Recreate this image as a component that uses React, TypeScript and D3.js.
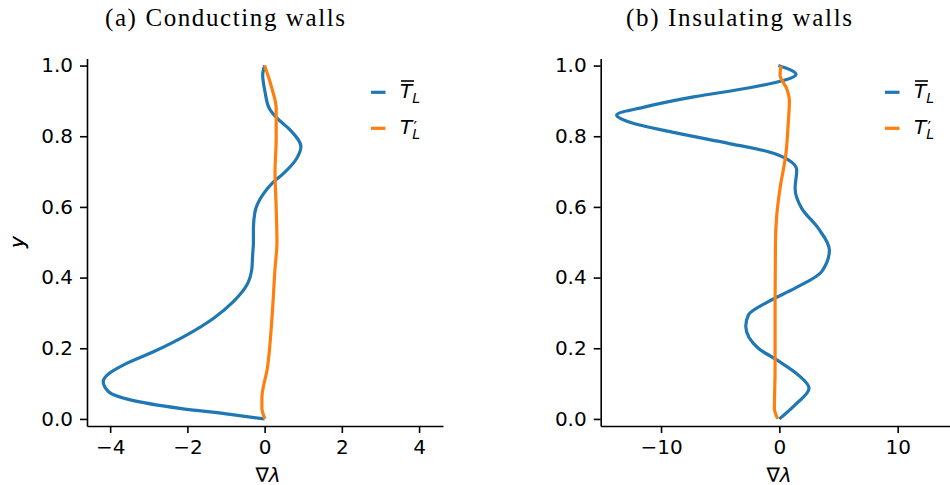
import React, { useEffect, useRef } from "react";
import * as d3 from "d3";

const blue = "#1f77b4";
const orange = "#ff7f0e";

// (a) Conducting walls
const yCondMean = [0.0, 0.013, 0.03, 0.054, 0.077, 0.106, 0.124, 0.153, 0.19, 0.238, 0.285, 0.332, 0.379, 0.426, 0.464, 0.5, 0.539, 0.586, 0.634, 0.671, 0.695, 0.737, 0.77, 0.818, 0.851, 0.879, 0.926, 0.973, 1.0];
const vCondMean = [0.0, -0.89, -2.19, -3.48, -4.04, -4.18, -4.08, -3.65, -2.88, -2.01, -1.32, -0.81, -0.46, -0.33, -0.31, -0.29, -0.29, -0.25, -0.05, 0.23, 0.49, 0.83, 0.94, 0.66, 0.32, 0.12, 0.01, -0.05, 0.0];
const yCondFluct = [0.0, 0.03, 0.059, 0.143, 0.285, 0.426, 0.5, 0.596, 0.7, 0.794, 0.879, 0.935, 1.0];
const vCondFluct = [0.01, -0.07, -0.07, 0.07, 0.19, 0.27, 0.32, 0.3, 0.27, 0.3, 0.3, 0.19, 0.0];

// (b) Insulating walls
const yInsMean = [0.0, 0.04, 0.087, 0.124, 0.167, 0.2, 0.262, 0.294, 0.332, 0.37, 0.417, 0.478, 0.539, 0.596, 0.653, 0.704, 0.733, 0.756, 0.78, 0.808, 0.841, 0.86, 0.883, 0.912, 0.935, 0.959, 0.975, 1.0];
const vInsMean = [0.0, 1.33, 2.51, 1.61, -0.22, -1.78, -2.84, -2.62, -0.93, 1.33, 3.58, 4.23, 3.3, 1.89, 1.33, 1.47, 0.76, -0.93, -4.31, -8.54, -12.76, -13.75, -11.35, -7.13, -2.9, 0.48, 1.41, -0.08];
const yInsFluct = [0.0, 0.03, 0.143, 0.332, 0.5, 0.577, 0.653, 0.747, 0.841, 0.898, 0.935, 0.973, 1.0];
const vInsFluct = [-0.14, -0.42, -0.36, -0.36, -0.33, -0.22, 0.06, 0.54, 0.76, 0.85, 0.62, 0.06, 0.14];

const yTicks = [0, 0.2, 0.4, 0.6, 0.8, 1.0];
const xTicksCond = [-4, -2, 0, 2, 4];
const xTicksIns = [-10, 0, 10];

const panels = [
  {
    title: "(a) Conducting walls",
    titleX: 225,
    titleW: 240,
    left: 87,
    right: 443,
    xDomain: [-4.6, 4.62],
    xTicks: xTicksCond,
    xLabelX: 268,
    legendX: 371,
    mean: { y: yCondMean, v: vCondMean },
    fluct: { y: yCondFluct, v: vCondFluct },
  },
  {
    title: "(b) Insulating walls",
    titleX: 739,
    titleW: 226,
    left: 600.7,
    right: 958,
    xDomain: [-15.1, 15.1],
    xTicks: xTicksIns,
    xLabelX: 779,
    legendX: 885,
    mean: { y: yInsMean, v: vInsMean },
    fluct: { y: yInsFluct, v: vInsFluct },
  },
];

const App = () => {
  const ref = useRef<SVGSVGElement>(null);

  useEffect(() => {
    if (!ref.current) return;
    const svg = d3.select(ref.current);
    svg.selectAll("*").remove();

    const top = 58.5;
    const bottom = 426;
    const y = d3.scaleLinear().domain([-0.02, 1.02]).range([bottom, top]);

    panels.forEach((p) => {
      const x = d3.scaleLinear().domain(p.xDomain).range([p.left, p.right]);
      const g = svg.append("g");

      // title
      g.append("text")
        .attr("x", p.titleX)
        .attr("y", 26)
        .attr("text-anchor", "middle")
        .attr("font-family", "Liberation Serif, serif")
        .attr("font-size", 25)
        .attr("textLength", p.titleW)
        .attr("lengthAdjust", "spacing")
        .text(p.title);

      // y axis
      const ya = g
        .append("g")
        .attr("transform", `translate(${p.left},0)`)
        .call(
          d3
            .axisLeft(y)
            .tickValues(yTicks)
            .tickFormat(d3.format(".1f"))
            .tickSize(7)
            .tickSizeOuter(0)
            .tickPadding(7)
        );
      // x axis
      const xa = g
        .append("g")
        .attr("transform", `translate(0,${bottom})`)
        .call(
          d3
            .axisBottom(x)
            .tickValues(p.xTicks)
            .tickFormat(d3.format("d"))
            .tickSize(7)
            .tickSizeOuter(0)
            .tickPadding(7)
        );
      [ya, xa].forEach((a) => {
        a.attr("font-family", "DejaVu Sans, sans-serif").attr("font-size", 20);
        a.selectAll("line").attr("stroke", "#000").attr("stroke-width", 1.6);
        a.select(".domain").attr("stroke", "#000").attr("stroke-width", 1.6);
        a.selectAll("text").attr("fill", "#000");
      });

      // axis labels
      g.append("text")
        .attr("transform", `translate(24,242) rotate(-90)`)
        .attr("text-anchor", "middle")
        .attr("font-family", "DejaVu Sans, sans-serif")
        .attr("font-style", "italic")
        .attr("font-size", 20)
        .text("y");
      const xl = g
        .append("text")
        .attr("x", p.xLabelX)
        .attr("y", 482)
        .attr("text-anchor", "middle")
        .attr("font-family", "DejaVu Sans, sans-serif")
        .attr("font-size", 20);
      xl.append("tspan").text("∇");
      xl.append("tspan").attr("font-style", "italic").text("λ");

      // curves
      const drawCurve = (s: { y: number[]; v: number[] }, color: string) => {
        const pts: [number, number][] = s.y.map((yy, i) => [x(s.v[i]), y(yy)]);
        g.append("path")
          .attr("d", d3.line().curve(d3.curveMonotoneY)(pts))
          .attr("fill", "none")
          .attr("stroke", color)
          .attr("stroke-width", 3.2);
      };
      drawCurve(p.mean, blue);
      drawCurve(p.fluct, orange);

      // legend
      const lx = p.legendX;
      const tx = lx + 29;
      [
        { color: blue, ly: 92.3 },
        { color: orange, ly: 128.3 },
      ].forEach((item, i) => {
        g.append("line")
          .attr("x1", lx)
          .attr("x2", lx + 14.5)
          .attr("y1", item.ly)
          .attr("y2", item.ly)
          .attr("stroke", item.color)
          .attr("stroke-width", 3.2);
        const base = item.ly + 5.7;
        const t = g
          .append("text")
          .attr("x", tx)
          .attr("y", base)
          .attr("font-family", "DejaVu Sans, sans-serif")
          .attr("font-style", "italic")
          .attr("font-size", 20);
        t.append("tspan").text("T");
        t.append("tspan").attr("dy", 5).attr("font-size", 14).text("L");
        if (i === 0) {
          g.append("line")
            .attr("x1", tx + 1)
            .attr("x2", tx + 14)
            .attr("y1", base - 17)
            .attr("y2", base - 17)
            .attr("stroke", "#000")
            .attr("stroke-width", 1.6);
        } else {
          g.append("text")
            .attr("x", tx + 13.5)
            .attr("y", base - 1)
            .attr("font-family", "DejaVu Sans, sans-serif")
            .attr("font-size", 16)
            .text("′");
        }
      });
    });
  }, []);

  return (
    <svg
      ref={ref}
      width={950}
      height={485}
      style={{ position: "absolute", left: 0, top: 0, background: "#fff" }}
    />
  );
};

export default App;
